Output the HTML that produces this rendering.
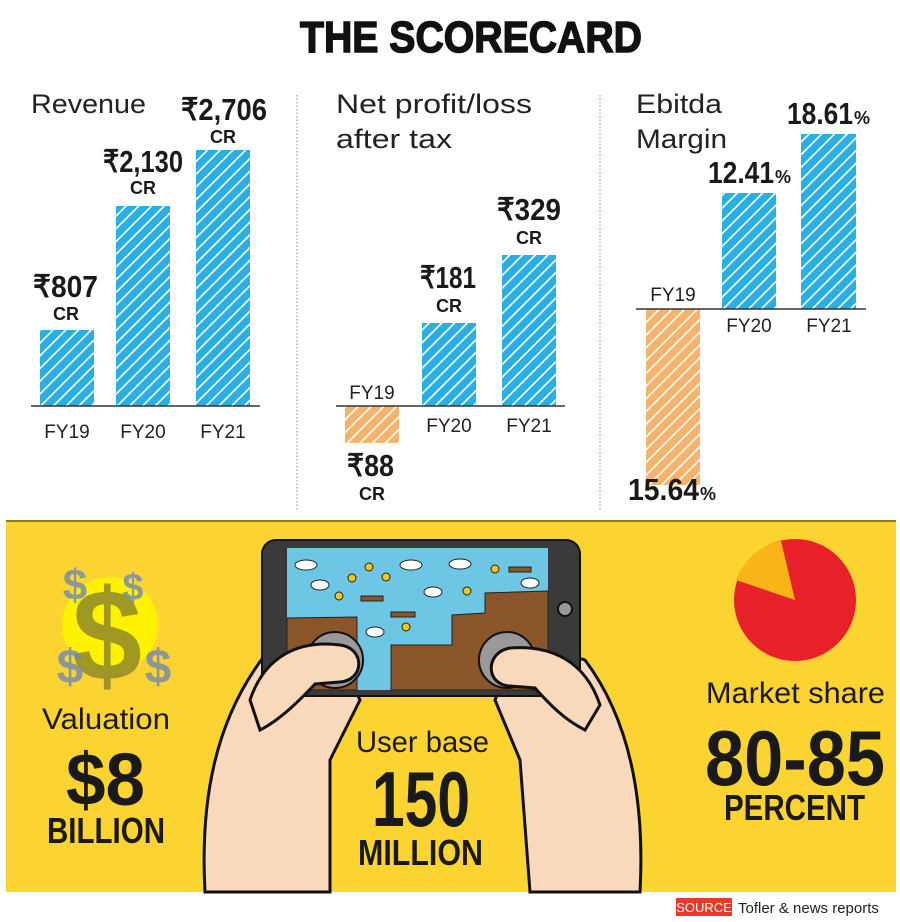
<!DOCTYPE html>
<html><head><meta charset="utf-8"><style>
body{margin:0;background:#fff}
svg{display:block}
text{font-family:"Liberation Sans",sans-serif}
.t{font-size:27px;fill:#222}
.v{font-weight:bold;font-size:31px;fill:#1a1a1a}
.c{font-weight:bold;font-size:18px;fill:#1a1a1a}
.fy{font-size:19px;fill:#222}
</style></head><body>
<svg width="900" height="922" viewBox="0 0 900 922" xmlns="http://www.w3.org/2000/svg">
<defs>
<pattern id="hb" width="9" height="9" patternUnits="userSpaceOnUse" patternTransform="rotate(45)">
<rect width="9" height="9" fill="#2aaee4"/><rect x="0" width="1.6" height="9" fill="#fff"/></pattern>
<pattern id="ho" width="9" height="9" patternUnits="userSpaceOnUse" patternTransform="rotate(45)">
<rect width="9" height="9" fill="#f7b36b"/><rect x="0" width="1.6" height="9" fill="#fff"/></pattern>
</defs>
<rect width="900" height="922" fill="#fff"/>
<text x="300" y="52" font-weight="900" font-size="44" fill="#111" stroke="#111" stroke-width="1.5" textLength="342" lengthAdjust="spacingAndGlyphs">THE SCORECARD</text>
<line x1="297" y1="95" x2="297" y2="510" stroke="#888" stroke-dasharray="1.5 2"/>
<line x1="600" y1="95" x2="600" y2="510" stroke="#888" stroke-dasharray="1.5 2"/>
<!-- Revenue -->
<text class="t" x="31" y="113" textLength="115" lengthAdjust="spacingAndGlyphs">Revenue</text>
<rect x="40" y="330" width="54" height="76" fill="url(#hb)"/>
<rect x="116" y="206" width="54" height="200" fill="url(#hb)"/>
<rect x="196" y="150" width="54" height="256" fill="url(#hb)"/>
<line x1="31" y1="406" x2="260" y2="406" stroke="#333" stroke-width="1.5"/>
<text class="v" x="33" y="297" textLength="65" lengthAdjust="spacingAndGlyphs">₹807</text><text class="c" x="66" y="320" text-anchor="middle">CR</text>
<text class="v" x="103" y="172" textLength="80" lengthAdjust="spacingAndGlyphs">₹2,130</text><text class="c" x="143" y="194" text-anchor="middle">CR</text>
<text class="v" x="181" y="120" textLength="86" lengthAdjust="spacingAndGlyphs">₹2,706</text><text class="c" x="223" y="143" text-anchor="middle">CR</text>
<text class="fy" x="67" y="438" text-anchor="middle">FY19</text>
<text class="fy" x="143" y="438" text-anchor="middle">FY20</text>
<text class="fy" x="223" y="438" text-anchor="middle">FY21</text>
<!-- Net profit -->
<text class="t" x="336" y="113" textLength="196" lengthAdjust="spacingAndGlyphs">Net profit/loss</text>
<text class="t" x="336" y="148" textLength="116" lengthAdjust="spacingAndGlyphs">after tax</text>
<rect x="345" y="406" width="54" height="37" fill="url(#ho)"/>
<rect x="422" y="323" width="54" height="83" fill="url(#hb)"/>
<rect x="502" y="255" width="54" height="151" fill="url(#hb)"/>
<line x1="336" y1="406" x2="565" y2="406" stroke="#333" stroke-width="1.5"/>
<text class="fy" x="372" y="399" text-anchor="middle">FY19</text>
<text class="fy" x="449" y="432" text-anchor="middle">FY20</text>
<text class="fy" x="529" y="432" text-anchor="middle">FY21</text>
<text class="v" x="420" y="288" textLength="56" lengthAdjust="spacingAndGlyphs">₹181</text><text class="c" x="449" y="312" text-anchor="middle">CR</text>
<text class="v" x="497" y="220" textLength="64" lengthAdjust="spacingAndGlyphs">₹329</text><text class="c" x="529" y="244" text-anchor="middle">CR</text>
<text class="v" x="347" y="476" textLength="47" lengthAdjust="spacingAndGlyphs">₹88</text><text class="c" x="372" y="500" text-anchor="middle">CR</text>
<!-- Ebitda -->
<text class="t" x="636" y="113" textLength="86" lengthAdjust="spacingAndGlyphs">Ebitda</text>
<text class="t" x="636" y="148" textLength="91" lengthAdjust="spacingAndGlyphs">Margin</text>
<rect x="646" y="309" width="54" height="176" fill="url(#ho)"/>
<rect x="722" y="193" width="54" height="116" fill="url(#hb)"/>
<rect x="801" y="134" width="55" height="175" fill="url(#hb)"/>
<line x1="636" y1="309" x2="866" y2="309" stroke="#333" stroke-width="1.5"/>
<text class="fy" x="673" y="301" text-anchor="middle">FY19</text>
<text class="fy" x="749" y="332" text-anchor="middle">FY20</text>
<text class="fy" x="829" y="332" text-anchor="middle">FY21</text>
<text class="v" x="708" y="183" textLength="66" lengthAdjust="spacingAndGlyphs">12.41</text><text x="775" y="183" font-size="18" font-weight="bold" fill="#1a1a1a">%</text>
<text class="v" x="787" y="124" textLength="66" lengthAdjust="spacingAndGlyphs">18.61</text><text x="854" y="124" font-size="18" font-weight="bold" fill="#1a1a1a">%</text>
<text class="v" x="628" y="500" textLength="71" lengthAdjust="spacingAndGlyphs">15.64</text><text x="700" y="500" font-size="18" font-weight="bold" fill="#1a1a1a">%</text>
<!-- bottom panel -->
<rect x="6" y="520" width="890" height="372" fill="#fbd431"/>
<line x1="6" y1="521" x2="896" y2="521" stroke="#6b5a20" stroke-width="1.5"/>
<circle cx="110" cy="625" r="48" fill="#fff200"/>
<text x="107" y="680" text-anchor="middle" font-size="130" font-weight="bold" fill="#8f8a2a" opacity="0.85" textLength="70" lengthAdjust="spacingAndGlyphs">$</text>
<g fill="#7088b4" opacity="0.8" font-weight="bold">
<text x="75" y="600" font-size="44" text-anchor="middle">$</text>
<text x="133" y="600" font-size="38" text-anchor="middle">$</text>
<text x="70" y="683" font-size="48" text-anchor="middle">$</text>
<text x="158" y="683" font-size="48" text-anchor="middle">$</text>
</g>
<path d="M205 892 C200 800 215 720 265 655 L330 640 L360 700 L330 760 L330 892 Z" fill="#f8d9bb" stroke="#111" stroke-width="3"/>
<path d="M640 892 C645 800 630 720 585 660 L520 640 L495 700 L520 760 L530 892 Z" fill="#f8d9bb" stroke="#111" stroke-width="3"/>
<rect x="262" y="540" width="318" height="156" rx="14" fill="#3a3a3a" stroke="#111" stroke-width="2"/>
<rect x="287" y="548" width="261" height="142" fill="#6cc6e4"/>
<path d="M287 618 L357 617 L357 690 L287 690 Z" fill="#8a5528" stroke="#222"/>
<path d="M391 645 L452 645 L452 615 L485 613 L485 593 L548 591 L548 690 L391 690 Z" fill="#8a5528" stroke="#222"/>
<circle cx="565" cy="609" r="7" fill="#999" stroke="#111" stroke-width="2"/>
<g fill="#f5c518" stroke="#222"><circle cx="369" cy="567" r="4"/><circle cx="352" cy="578" r="4"/><circle cx="386" cy="577" r="4"/><circle cx="339" cy="596" r="4"/><circle cx="495" cy="569" r="4"/><circle cx="467" cy="591" r="4"/><circle cx="406" cy="627" r="4"/></g>
<g fill="#fff" stroke="#222"><ellipse cx="306" cy="565" rx="11" ry="5"/><ellipse cx="320" cy="585" rx="9" ry="5"/><ellipse cx="411" cy="565" rx="11" ry="5"/><ellipse cx="460" cy="564" rx="11" ry="5"/><ellipse cx="433" cy="592" rx="9" ry="5"/><ellipse cx="530" cy="583" rx="9" ry="5"/><ellipse cx="375" cy="632" rx="9" ry="5"/></g>
<g fill="#8a5528" stroke="#222"><rect x="361" y="596" width="22" height="5"/><rect x="391" y="612" width="24" height="5"/><rect x="509" y="567" width="22" height="5"/></g>
<circle cx="335" cy="660" r="28" fill="#999" stroke="#111" stroke-width="2"/>
<circle cx="507" cy="660" r="28" fill="#999" stroke="#111" stroke-width="2"/>
<path d="M250 700 C265 655 300 640 340 645 C365 648 365 680 340 682 L315 684 C300 700 280 720 260 730 Z" fill="#f8d9bb" stroke="#111" stroke-width="3"/>
<path d="M600 705 C585 660 550 645 510 648 C485 652 485 685 510 686 L535 688 C550 705 565 720 585 730 Z" fill="#f8d9bb" stroke="#111" stroke-width="3"/>
<circle cx="795" cy="600" r="61" fill="#e8202a"/>
<path d="M795 600 L781 541 A61 61 0 0 0 736 580 Z" fill="#f9b418"/>
<g fill="#1a1a1a">
<text x="42" y="729" font-size="30" textLength="128" lengthAdjust="spacingAndGlyphs">Valuation</text>
<text x="66" y="805" font-size="74" font-weight="bold" textLength="79" lengthAdjust="spacingAndGlyphs">$8</text>
<text x="47" y="843" font-size="36" font-weight="bold" textLength="118" lengthAdjust="spacingAndGlyphs">BILLION</text>
<text x="356" y="752" font-size="30" textLength="133" lengthAdjust="spacingAndGlyphs">User base</text>
<text x="372" y="826" font-size="78" font-weight="bold" textLength="98" lengthAdjust="spacingAndGlyphs">150</text>
<text x="358" y="865" font-size="36" font-weight="bold" textLength="125" lengthAdjust="spacingAndGlyphs">MILLION</text>
<text x="706" y="703" font-size="30" textLength="179" lengthAdjust="spacingAndGlyphs">Market share</text>
<text x="705" y="785" font-size="78" font-weight="bold" textLength="180" lengthAdjust="spacingAndGlyphs">80-85</text>
<text x="724" y="820" font-size="36" font-weight="bold" textLength="141" lengthAdjust="spacingAndGlyphs">PERCENT</text>
</g>
<rect x="676" y="898" width="56" height="18" fill="#e8392a"/>
<text x="704" y="912" text-anchor="middle" font-size="13" fill="#fff">SOURCE</text>
<text x="738" y="913" font-size="15" fill="#222">Tofler &amp; news reports</text>
</svg>
</body></html>
